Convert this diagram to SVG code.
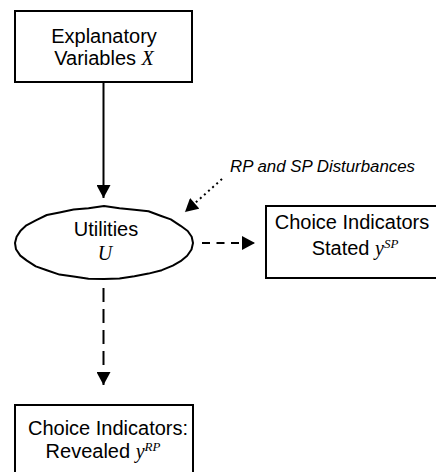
<svg xmlns="http://www.w3.org/2000/svg" width="436" height="472" viewBox="0 0 436 472">
  <style>
    .box { fill: #fff; stroke: #000; stroke-width: 2; }
    .lbl { font-family: "Liberation Sans", Arial, sans-serif; font-size: 20px; fill: #000; text-anchor: middle; }
    .math { font-family: "Liberation Serif", "Times New Roman", serif; font-style: italic; }
    .sup { font-family: "Liberation Serif", "Times New Roman", serif; font-style: italic; font-size: 13px; }
    .note { font-family: "Liberation Sans", Arial, sans-serif; font-style: italic; font-size: 16px; fill: #000; }
    .edge { fill: none; stroke: #000; stroke-width: 2; }
  </style>
  <defs>
    <marker id="head" markerUnits="userSpaceOnUse" markerWidth="14" markerHeight="14" viewBox="0 0 13 14" refX="13" refY="7" orient="auto">
      <path d="M0,0 L13,7 L0,14 z" fill="#000"/>
    </marker>
  </defs>
  <rect width="436" height="472" fill="#fff"/>

  <!-- connectors -->
  <g id="connectors">
    <line class="edge" x1="103.5" y1="82" x2="103.5" y2="198" marker-end="url(#head)"/>
    <line class="edge" x1="222" y1="179" x2="185" y2="212" stroke-dasharray="2 3.5" marker-end="url(#head)"/>
    <line class="edge" x1="202" y1="243" x2="255" y2="243" stroke-dasharray="8 6.5" marker-end="url(#head)"/>
    <line class="edge" x1="103.5" y1="288" x2="103.5" y2="385" stroke-dasharray="14 7" marker-end="url(#head)"/>
    <text class="note" x="230" y="172" textLength="185" lengthAdjust="spacingAndGlyphs">RP and SP Disturbances</text>
  </g>

  <!-- explanatory variables -->
  <g id="node-x">
    <rect class="box" x="15" y="11" width="177" height="71"/>
    <text class="lbl" x="104" y="42.5">Explanatory</text>
    <text class="lbl" x="104" y="65">Variables <tspan class="math">X</tspan></text>
  </g>

  <!-- utilities (hand-drawn ellipse) -->
  <g id="node-u">
    <polygon class="box" stroke-linejoin="round" points="193,243 191.5,249.5 187.2,255.8 180.6,261.2 172.8,265.6 161.8,270.2 148.5,273.6 134.4,276.3 119.5,278.6 104,279 88.5,278.8 73.6,276.5 59.5,274.6 46.8,270.2 35.8,266.4 26.9,260.6 20.3,255.6 16,249.3 15,243 16.6,236.7 20.8,230.4 26.4,225.3 35.8,220.3 46.8,215 59.5,212.4 73.6,209.6 88.5,208.2 104,206 119.5,208.3 134.4,209.8 148.5,211.3 161.2,216 170.8,219.4 180.6,225.8 187.7,231 191.7,236.7"/>
    <text class="lbl" x="106" y="236">Utilities</text>
    <text class="lbl math" x="105" y="260">U</text>
  </g>

  <!-- stated choice indicators -->
  <g id="node-sp">
    <rect class="box" x="266" y="206" width="180" height="72"/>
    <text class="lbl" x="352" y="229">Choice Indicators</text>
    <text class="lbl" x="355" y="255">Stated <tspan class="math">y</tspan><tspan class="sup" dy="-7">SP</tspan></text>
  </g>

  <!-- revealed choice indicators -->
  <g id="node-rp">
    <rect class="box" x="15" y="405" width="178" height="80"/>
    <text class="lbl" x="108" y="435">Choice Indicators:</text>
    <text class="lbl" x="103" y="458">Revealed <tspan class="math">y</tspan><tspan class="sup" dy="-7">RP</tspan></text>
  </g>
</svg>
